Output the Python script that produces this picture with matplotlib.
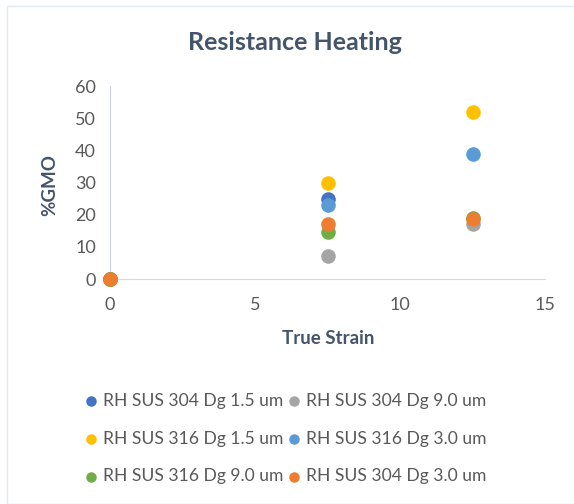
import matplotlib
matplotlib.use("Agg")
import matplotlib.pyplot as plt
from matplotlib.patches import Rectangle

plt.rcParams['font.family'] = ['Lato', 'DejaVu Sans']

# true strain / %GMO values per series
x_304_15 = [0, 7.5]
y_304_15 = [0, 25]
x_304_90 = [0, 7.5, 12.5]
y_304_90 = [0, 7, 17]
x_316_15 = [0, 7.5, 12.5]
y_316_15 = [0, 30, 52]
x_316_30 = [0, 7.5, 12.5]
y_316_30 = [0, 23, 39]
x_316_90 = [0, 7.5, 12.5]
y_316_90 = [0, 14.5, 19]
x_304_30 = [0, 7.5, 12.5]
y_304_30 = [0, 17, 18.7]

series = [
    (x_304_15, y_304_15, '#4472C4', 'RH SUS 304 Dg 1.5 um'),
    (x_304_90, y_304_90, '#A5A5A5', 'RH SUS 304 Dg 9.0 um'),
    (x_316_15, y_316_15, '#FFC000', 'RH SUS 316 Dg 1.5 um'),
    (x_316_30, y_316_30, '#5B9BD5', 'RH SUS 316 Dg 3.0 um'),
    (x_316_90, y_316_90, '#70AD47', 'RH SUS 316 Dg 9.0 um'),
    (x_304_30, y_304_30, '#ED7D31', 'RH SUS 304 Dg 3.0 um'),
]

txt = '#595959'
title_c = '#44546A'

fig = plt.figure(figsize=(5.74, 5.04), dpi=100)
ax = fig.add_axes([110/574, 1-279/504, 435/574, 193/504])

handles = []
for xs, ys, c, lab in series:
    h = ax.scatter(xs, ys, s=110, color=c, label=lab, clip_on=False, zorder=3, linewidths=0)
    handles.append(h)

ax.set_xlim(0, 15)
ax.set_ylim(0, 60)
ax.set_xticks([0, 5, 10, 15])
ax.set_yticks([0, 10, 20, 30, 40, 50, 60])
for s in ['top', 'right']:
    ax.spines[s].set_visible(False)
ax.spines['left'].set_color('#C9D3E3')
ax.spines['bottom'].set_color('#D9D9D9')
ax.tick_params(length=0, labelsize=13, labelcolor=txt)
ax.tick_params(axis='x', pad=13)
ax.tick_params(axis='y', pad=10)

fig.text(295/574, 1-42/504, 'Resistance Heating', ha='center', va='center',
         fontsize=18, fontweight='bold', color=title_c)
fig.text(328/574, 1-338/504, 'True Strain', ha='center', va='center',
         fontsize=13.5, fontweight='bold', color=title_c)
fig.text(50/574, 1-185/504, '%GMO', ha='center', va='center', rotation=90,
         fontsize=13.5, fontweight='bold', color=title_c)

# row-wise legend order -> reorder for matplotlib's column filling
order = [0, 2, 4, 1, 3, 5]
leg = fig.legend(handles=[handles[i] for i in order], loc='upper left',
                 bbox_to_anchor=(73/574, 1-384/504),
                 ncol=2, frameon=False, fontsize=12.6, labelcolor=txt,
                 handletextpad=0.2, columnspacing=0.1, labelspacing=1.25,
                 markerscale=0.72, borderpad=0, handlelength=1.0)

fig.patches.append(Rectangle((7/574, 0), 1, 1-6/504, transform=fig.transFigure,
                             fill=False, edgecolor='#E4E9F0', linewidth=1))

fig.savefig('out.png', dpi=100)
